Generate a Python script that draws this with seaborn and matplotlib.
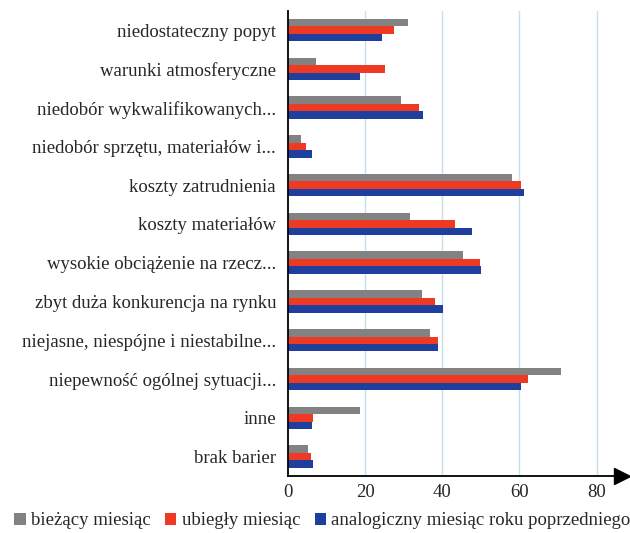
import matplotlib
matplotlib.use("Agg")
import matplotlib.pyplot as plt
import pandas as pd
import seaborn as sns

# Kategorie barier i wartosci (%)
categories = [
    "niedostateczny popyt",
    "warunki atmosferyczne",
    "niedobór wykwalifikowanych...",
    "niedobór sprzętu, materiałów i...",
    "koszty zatrudnienia",
    "koszty materiałów",
    "wysokie obciążenie na rzecz...",
    "zbyt duża konkurencja na rynku",
    "niejasne, niespójne i niestabilne...",
    "niepewność ogólnej sytuacji...",
    "inne",
    "brak barier",
]
series = ["bieżący miesiąc", "ubiegły miesiąc", "analogiczny miesiąc roku poprzedniego"]
biezacy = [31.0, 7.2, 29.3, 3.4, 58.1, 31.6, 45.3, 34.7, 36.7, 70.7, 18.7, 5.2]
ubiegly = [27.5, 25.2, 34.0, 4.6, 60.3, 43.4, 49.7, 38.2, 38.9, 62.1, 6.4, 6.0]
analogiczny = [24.5, 18.8, 35.1, 6.2, 61.2, 47.7, 50.0, 40.1, 38.9, 60.5, 6.2, 6.5]
x_ticks = [0, 20, 40, 60, 80]

colors = ["#828282", "#ee3a22", "#1f3f9e"]

df = pd.DataFrame({
    "kategoria": categories * 3,
    "seria": [series[0]] * 12 + [series[1]] * 12 + [series[2]] * 12,
    "wartosc": biezacy + ubiegly + analogiczny,
})

sns.set_style("white")
plt.rcParams["font.family"] = ["Liberation Serif", "DejaVu Serif"]

fig = plt.figure(figsize=(6.3, 5.33), dpi=100)
ax = fig.add_axes([0.457, 0.107, 0.539, 0.873])

sns.barplot(data=df, y="kategoria", x="wartosc", hue="seria", order=categories,
            hue_order=series, palette=colors, orient="h", width=0.58,
            saturation=1, linewidth=0, ax=ax)

ax.set_xlim(0, 88)
ax.set_ylim(len(categories) - 0.5, -0.5)
ax.set_xticks(x_ticks)
ax.set_xlabel("")
ax.set_ylabel("")
for xv in x_ticks[1:]:
    ax.axvline(xv, color="#c6dfee", lw=1, zorder=0)
ax.set_axisbelow(True)

for s in ["top", "right"]:
    ax.spines[s].set_visible(False)
ax.spines["left"].set_color("black")
ax.spines["bottom"].set_color("black")
ax.spines["left"].set_linewidth(1.3)
ax.spines["bottom"].set_linewidth(1.3)
ax.plot(0.985, 0, ">", color="black", markersize=11, transform=ax.transAxes, clip_on=False)

ax.tick_params(axis="y", length=0, pad=8.5, labelsize=13.5)
ax.tick_params(axis="x", length=0, pad=6, labelsize=13.5)

ax.legend(loc="center", bbox_to_anchor=(0.512, 0.023), bbox_transform=fig.transFigure,
          ncol=3, frameon=False, fontsize=13.5, handlelength=0.6, handleheight=0.6,
          handletextpad=0.3, columnspacing=0.75)

fig.savefig("out.png", dpi=100)
